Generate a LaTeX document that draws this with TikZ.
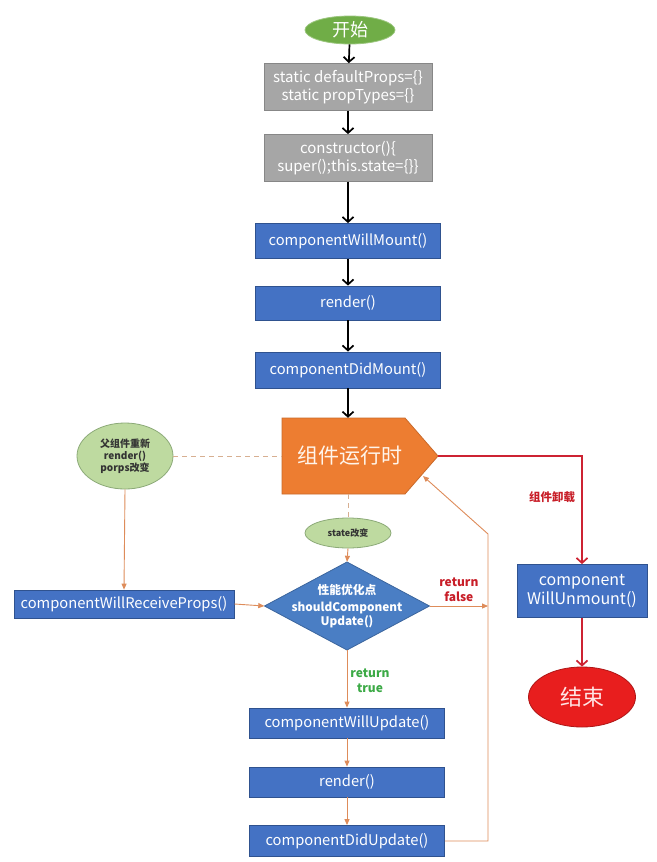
\documentclass[tikz,border=0pt]{standalone}
\usepackage{fontspec}
\setmainfont{Noto Sans CJK SC}
\usetikzlibrary{shapes.geometric,arrows.meta}
\definecolor{bluefill}{RGB}{68,114,196}
\definecolor{blueline}{RGB}{47,82,143}
\definecolor{grayfill}{RGB}{166,166,166}
\definecolor{grayline}{RGB}{135,135,135}
\definecolor{greenfill}{RGB}{112,173,71}
\definecolor{lightgreen}{RGB}{190,218,160}
\definecolor{greenline}{RGB}{140,170,120}
\definecolor{orangefill}{RGB}{237,125,49}
\definecolor{orangeline}{RGB}{222,140,90}
\definecolor{dashcol}{RGB}{215,175,145}
\definecolor{redline}{RGB}{205,35,50}
\definecolor{redfill}{RGB}{232,30,30}
\definecolor{redtext}{RGB}{200,30,40}
\definecolor{greentext}{RGB}{60,170,70}
\definecolor{diafill}{RGB}{74,126,196}
\tikzset{
  fs/.style={font=\fontsize{#1}{\the\dimexpr#1pt*6/5\relax}\selectfont},
  bfs/.style={font=\bfseries\fontsize{#1}{\the\dimexpr#1pt*6/5\relax}\selectfont},
  graybox/.style={rectangle, draw=grayline, fill=grayfill, line width=0.8pt, text=white, inner sep=0pt, align=center, fs=15},
  bluebox/.style={rectangle, draw=blueline, fill=bluefill, line width=0.8pt, text=white, inner sep=0pt, align=center, fs=14.7},
  lgell/.style={ellipse, draw=greenline, fill=lightgreen, line width=0.8pt, inner sep=0pt, align=center, text=black!80},
  blk/.style={line width=1.7pt, -{Straight Barb[length=5pt,width=11pt]}},
  org/.style={line width=0.9pt, draw=orangeline, -{Triangle[length=6pt,width=5pt]}},
  redarr/.style={line width=1.7pt, draw=redline, -{Straight Barb[length=5pt,width=11pt]}},
  dsh/.style={line width=1pt, draw=dashcol, dashed, dash pattern=on 5pt off 4pt},
  lbl/.style={inner sep=0pt, align=center, bfs=12}
}
\begin{document}
\begin{tikzpicture}[x=1pt,y=-1pt]
\path[use as bounding box, fill=white] (0,0) rectangle (656,862);

% top column
\node[ellipse, fill=greenfill, draw=greenfill!70!white, line width=0.8pt, minimum width=90, minimum height=28, inner sep=0pt, text=white, fs=18] (start) at (350,30) {开始};
\node[graybox, minimum width=168, minimum height=47] (g1) at (348,87) {static defaultProps=\{\}\\static propTypes=\{\}};
\node[graybox, minimum width=168, minimum height=47] (g2) at (348,158) {constructor()\{\\super();this.state=\{\}\}};
\node[bluebox, minimum width=185, minimum height=35] (m1) at (348,241) {componentWillMount()};
\node[bluebox, minimum width=185, minimum height=34] (m2) at (348,303) {render()};
\node[bluebox, minimum width=185, minimum height=36] (m3) at (348,370) {componentDidMount()};

% runtime pentagon
\draw[fill=orangefill, draw=orangefill!85!black, line width=0.8pt] (282,418) -- (405,418) -- (438,456) -- (405,494) -- (282,494) -- cycle;
\node[minimum width=136, minimum height=76, inner sep=0pt, text=white!92!orange, fs=21] (pent) at (350,456) {组件运行时};
\coordinate (tip) at (438,456);
\coordinate (back) at (423,476);

% left ellipse & state
\node[lgell, minimum width=96, minimum height=66, font=\bfseries\fontsize{10}{12}\selectfont] (par) at (125,456) {父组件重新\\render()\\porps改变};
\node[lgell, minimum width=86, minimum height=30, bfs=9] (state) at (348,533) {state改变};

% diamond
\draw[fill=diafill, draw=diafill!80!black, line width=0.8pt] (264.5,606) -- (347,562) -- (429.5,606) -- (347,650) -- cycle;
\node[minimum width=165, minimum height=88, inner sep=0pt, align=center, text=white, font=\bfseries\fontsize{11.8}{14}\selectfont] (dia) at (347,606) {性能优化点\\[3pt]shouldComponent\\Update()};
\coordinate (rf) at (488,606);
\coordinate (bend) at (488,534);

\node[bluebox, minimum width=220, minimum height=28] (crp) at (124,604) {componentWillReceiveProps()};
\node[bluebox, minimum width=195, minimum height=30] (u1) at (347,723) {componentWillUpdate()};
\node[bluebox, minimum width=195, minimum height=30] (u2) at (347,782) {render()};
\node[bluebox, minimum width=195, minimum height=31] (u3) at (347,841) {componentDidUpdate()};

% unmount
\node[bluebox, minimum width=130, minimum height=53, fs=16] (unm) at (582,591) {component\\WillUnmount()};
\node[ellipse, fill=redfill, draw=redfill!75!black, line width=0.8pt, minimum width=107, minimum height=60, inner sep=0pt, text=white!90!red, fs=22] (end) at (582,697) {结束};

% black arrows
\draw[blk] (start) -- (g1);
\draw[blk] (g1) -- (g2);
\draw[blk] (g2) -- (m1);
\draw[blk] (m1) -- (m2);
\draw[blk] (m2) -- (m3);
\draw[blk] (m3.south) -- (m3.south |- pent.north);

% dashed
\draw[dsh] (par.east) -- (pent.west);
\draw[dsh] (state.north |- pent.south) -- (state.north);

% orange arrows
\draw[org] (par.south) -- (crp.north);
\draw[org] (state.south) -- (dia.north);
\draw[org] (crp.east) -- (dia.west);
\draw[org] (dia.east) -- (rf) node[lbl, text=redtext, midway, above=4pt] {return\\false};
\draw[org] (dia.south) -- (u1.north) node[lbl, text=greentext, midway, right=3pt, yshift=-2pt] {return\\true};
\draw[org] (u1) -- (u2);
\draw[org] (u2) -- (u3);
\draw[org] (u3.east) -- (u3.east -| rf) -- (bend) -- (back);

% red
\draw[redarr] (tip) -- (tip -| unm.north) -- (unm.north);
\node[lbl, text=redtext, bfs=11.5] (unl) at (552,497) {组件卸载};
\draw[redarr] (unm.south) -- (end.north);
\end{tikzpicture}
\end{document}
